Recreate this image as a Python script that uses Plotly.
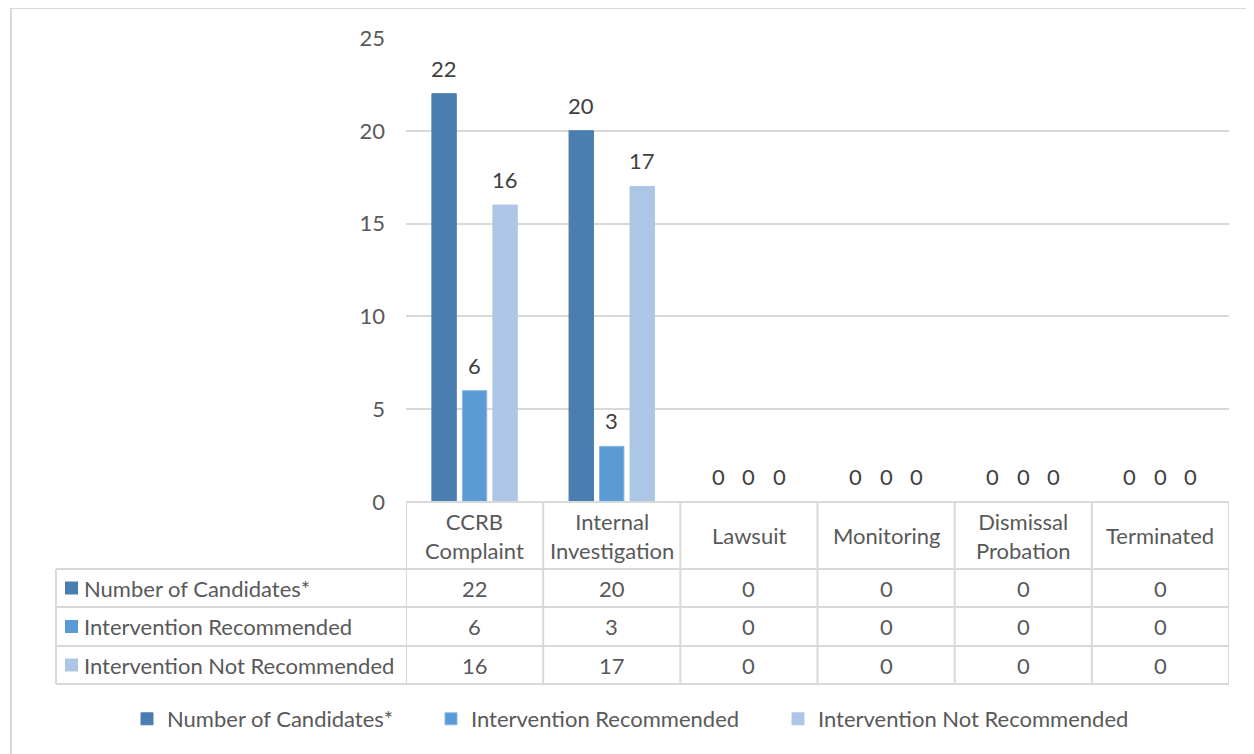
import plotly.graph_objects as go

categories = ["CCRB Complaint", "Internal Investigation", "Lawsuit", "Monitoring",
              "Dismissal Probation", "Terminated"]
series_names = ["Number of Candidates*", "Intervention Recommended", "Intervention Not Recommended"]
number_of_candidates = [22, 20, 0, 0, 0, 0]
intervention_recommended = [6, 3, 0, 0, 0, 0]
intervention_not_recommended = [16, 17, 0, 0, 0, 0]
y_ticks = [0, 5, 10, 15, 20, 25]

series_values = [number_of_candidates, intervention_recommended, intervention_not_recommended]
colors = ["#4a7eb0", "#5b9bd5", "#adc6e6"]
line_colors = ["#4a7eb0", "#8bb7e3", "#adc6e6"]

FONT = "Lato"
FS = 22
TXT = "#595959"
GRID = "#d9d9d9"

OFF = 8  # page body margin
W, H = 1246, 746
# screen coords of plot area: x 406..1229, y 38..502
L, R, T, B = 406 - OFF, W - (1229 - OFF), 38 - OFF, H - (502 - OFF)
PW, PH = W - L - R, H - T - B


def px(p):
    return (p - OFF - L) / PW


def py(p):
    return (H - B - (p - OFF)) / PH


legend_ids = ["legend", "legend2", "legend3"]
legend_left_px = [127, 431, 778]

fig = go.Figure()
for name, vals, c, lc, lg in zip(series_names, series_values, colors, line_colors, legend_ids):
    fig.add_trace(go.Bar(x=categories, y=vals, name=name, legend=lg,
                         marker=dict(color=c, line=dict(color=lc, width=1)),
                         hoverinfo="x+y"))

shapes = []
annotations = []

# data labels above bars
bargap = 0.333
slot = (1 - bargap) / 3
for j, vals in enumerate(series_values):
    for i, v in enumerate(vals):
        annotations.append(dict(x=i + (j - 1) * slot, y=v, xref="x", yref="y", text=str(v),
                                showarrow=False, yanchor="bottom", yshift=10,
                                font=dict(family=FONT, size=FS, color="#404040")))

# table geometry (screen pixel rows)
row_lines = [502, 569, 607, 646, 684]
table_left = 56
ncat = len(categories)

shapes.append(dict(type="line", xref="x", yref="paper", x0=-0.5, x1=ncat - 0.5,
                   y0=py(row_lines[0]), y1=py(row_lines[0]), line=dict(color=GRID, width=2)))
for r in row_lines[1:]:
    shapes.append(dict(type="line", xref="paper", yref="paper", x0=px(table_left), x1=1,
                       y0=py(r), y1=py(r), line=dict(color=GRID, width=2)))
for k in range(ncat + 1):
    shapes.append(dict(type="line", xref="x", yref="paper", x0=k - 0.5, x1=k - 0.5,
                       y0=py(row_lines[0]), y1=py(row_lines[-1]), line=dict(color=GRID, width=2)))
shapes.append(dict(type="line", xref="paper", yref="paper", x0=px(table_left), x1=px(table_left),
                   y0=py(row_lines[1]), y1=py(row_lines[-1]), line=dict(color=GRID, width=2)))

# header labels
for c in categories:
    annotations.append(dict(x=c, xref="x", y=py((row_lines[0] + row_lines[1]) / 2), yref="paper",
                            text=c.replace(" ", "<br>"), showarrow=False, yanchor="middle",
                            font=dict(family=FONT, size=FS, color=TXT)))

# rows
for j, (name, vals, col) in enumerate(zip(series_names, series_values, colors)):
    yc = (row_lines[j + 1] + row_lines[j + 2]) / 2
    shapes.append(dict(type="rect", xref="paper", yref="paper", x0=px(65), x1=px(78),
                       y0=py(yc - 6.5), y1=py(yc + 6.5), fillcolor=col, line=dict(width=0)))
    annotations.append(dict(x=px(82), xref="paper", y=py(yc), yref="paper", text=name,
                            showarrow=False, xanchor="left", yanchor="middle",
                            font=dict(family=FONT, size=FS, color=TXT)))
    for c, v in zip(categories, vals):
        annotations.append(dict(x=c, xref="x", y=py(yc), yref="paper", text=str(v),
                                showarrow=False, yanchor="middle",
                                font=dict(family=FONT, size=FS, color=TXT)))

# outer chart border
shapes.append(dict(type="rect", xref="paper", yref="paper", x0=px(11), x1=px(1270),
                   y0=py(770), y1=py(8), line=dict(color=GRID, width=2), layer="below"))

legend_style = dict(orientation="h", xref="paper", yref="paper", xanchor="left",
                    y=py(719), yanchor="middle", bgcolor="rgba(0,0,0,0)",
                    font=dict(family=FONT, size=FS, color=TXT))

fig.update_layout(
    width=W, height=H,
    margin=dict(l=L, r=R, t=T, b=B),
    paper_bgcolor="white", plot_bgcolor="white",
    barmode="group", bargap=bargap, bargroupgap=0.2,
    font=dict(family=FONT, size=FS, color=TXT),
    xaxis=dict(showticklabels=False, showline=False, showgrid=False, zeroline=False,
               range=[-0.5, ncat - 0.5], fixedrange=True),
    yaxis=dict(range=[0, 25], tickvals=y_ticks, showgrid=True, gridcolor=GRID, gridwidth=2,
               zeroline=False, showline=False, ticks="", ticklabelstandoff=20,
               tickfont=dict(family=FONT, size=FS, color=TXT)),
    shapes=shapes,
    annotations=annotations,
    showlegend=True,
)
for lg, lx in zip(legend_ids, legend_left_px):
    fig.update_layout({lg: dict(legend_style, x=px(lx))})

fig.write_html("out.html")
